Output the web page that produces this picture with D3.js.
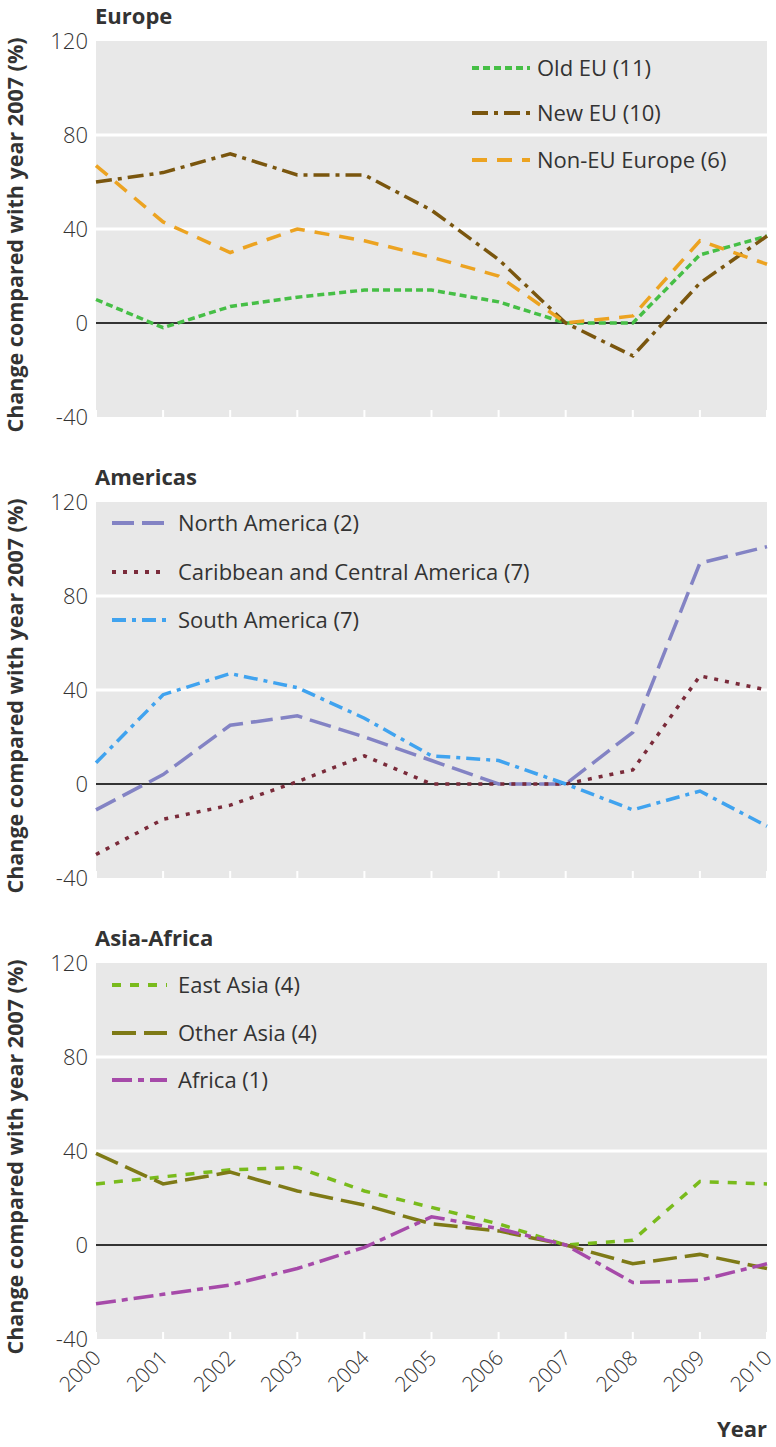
<!DOCTYPE html>
<html>
<head>
<meta charset="utf-8">
<script src="https://cdn.jsdelivr.net/npm/d3@7"></script>
<style>
  html, body { margin: 0; padding: 0; background: #fff; }
  svg { display: block; }
  text { font-family: "Open Sans", "Noto Sans", sans-serif; fill: #333; }
</style>
</head>
<body>
<svg id="chart" width="776" height="1447"></svg>
<script>
// ---------- data ----------
const years = [2000, 2001, 2002, 2003, 2004, 2005, 2006, 2007, 2008, 2009, 2010];
const yTicks = [120, 80, 40, 0, -40];
const yTickLabels = ["120", "80", "40", "0", "-40"];
const panelTitles = ["Europe", "Americas", "Asia-Africa"];

// Europe
const europeNames = ["Old EU (11)", "New EU (10)", "Non-EU Europe (6)"];
const oldEU       = [10, -2, 7, 11, 14, 14, 9, 0, 0, 29, 37];
const newEU       = [60, 64, 72, 63, 63, 48, 27, 0, -14, 17, 37];
const nonEU       = [67, 43, 30, 40, 35, 28, 20, 0, 3, 35, 25];

// Americas
const americasNames = ["North America (2)", "Caribbean and Central America (7)", "South America (7)"];
const northAmerica  = [-11, 4, 25, 29, 20, 10, 0, 0, 22, 94, 101];
const caribbean     = [-30, -15, -9, 1, 12, 0, 0, 0, 6, 46, 40];
const southAmerica  = [9, 38, 47, 41, 28, 12, 10, 0, -11, -3, -18];

// Asia-Africa
const asiaAfricaNames = ["East Asia (4)", "Other Asia (4)", "Africa (1)"];
const eastAsia  = [26, 29, 32, 33, 23, 16, 9, 0, 2, 27, 26];
const otherAsia = [39, 26, 31, 23, 17, 9, 6, 0, -8, -4, -10];
const africa    = [-25, -21, -17, -10, -1, 12, 7, 0, -16, -15, -8];

// ---------- styles ----------
const styles = [
  [ {color: "#46bf46", dash: "7,4"},   {color: "#7a560e", dash: "16,6,4,6"}, {color: "#eca321", dash: "15,10"} ],
  [ {color: "#8383c4", dash: "22,8"},  {color: "#7a2b3a", dash: "4,7"},      {color: "#40a3ef", dash: "14,6,4,6"} ],
  [ {color: "#79bb1c", dash: "9,9"},   {color: "#7e7a16", dash: "24,8"},     {color: "#a64aa9", dash: "20,6,6,6"} ]
];

const panelsData = [
  {title: panelTitles[0], names: europeNames,     values: [oldEU, newEU, nonEU]},
  {title: panelTitles[1], names: americasNames,   values: [northAmerica, caribbean, southAmerica]},
  {title: panelTitles[2], names: asiaAfricaNames, values: [eastAsia, otherAsia, africa]}
];

// ---------- layout ----------
const plotLeft = 96, plotRight = 767;
const panelTops = [41, 502, 963];
const plotH = 376;
const legendLayout = [
  {x0: 472, x1: 530, tx: 537, ys: [68, 113, 160]},
  {x0: 112, x1: 167, tx: 178, ys: [523, 572, 620]},
  {x0: 112, x1: 167, tx: 178, ys: [985, 1033, 1080]}
];

const svg = d3.select("#chart");
const x = d3.scaleLinear().domain([2000, 2010]).range([plotLeft, plotRight]);

panelsData.forEach((p, pi) => {
  const top = panelTops[pi];
  const y = d3.scaleLinear().domain([-40, 120]).range([top + plotH, top]);
  const g = svg.append("g");

  // background
  g.append("rect").attr("x", plotLeft).attr("y", top)
    .attr("width", plotRight - plotLeft).attr("height", plotH).attr("fill", "#e8e8e8");

  // white gridlines
  [80, 40].forEach(v => {
    g.append("line").attr("x1", plotLeft).attr("x2", plotRight)
      .attr("y1", y(v)).attr("y2", y(v)).attr("stroke", "#fff").attr("stroke-width", 3);
  });

  // bottom white ticks
  years.forEach(yr => {
    g.append("line").attr("x1", x(yr)).attr("x2", x(yr))
      .attr("y1", top + plotH).attr("y2", top + plotH - 7)
      .attr("stroke", "#fff").attr("stroke-width", 2);
  });

  // zero line
  g.append("line").attr("x1", plotLeft).attr("x2", plotRight)
    .attr("y1", y(0)).attr("y2", y(0)).attr("stroke", "#333").attr("stroke-width", 2);

  // y axis labels
  const yAxis = d3.axisLeft(y).tickValues(yTicks).tickSize(0).tickPadding(8)
    .tickFormat((d, i) => yTickLabels[i]);
  const ya = g.append("g").attr("transform", `translate(${plotLeft},0)`).call(yAxis);
  ya.select(".domain").remove();
  ya.selectAll("text").style("font-size", "22px").style("font-weight", 300)
    .style("font-family", "'Open Sans', sans-serif").attr("fill", "#333");

  // title
  g.append("text").attr("x", plotLeft - 1).attr("y", top - 17)
    .style("font-size", "22px").style("font-weight", 700).text(p.title);

  // y title
  g.append("text")
    .attr("transform", `translate(23,${top + plotH / 2 + 6}) rotate(-90)`)
    .attr("text-anchor", "middle")
    .style("font-size", "21.5px").style("font-weight", 700)
    .text("Change compared with year 2007 (%)");

  // lines
  const line = d3.line().x((d, i) => x(years[i])).y(d => y(d));
  p.values.forEach((vals, si) => {
    const st = styles[pi][si];
    g.append("path").datum(vals).attr("d", line)
      .attr("fill", "none").attr("stroke", st.color).attr("stroke-width", 3.5)
      .attr("stroke-dasharray", st.dash);
  });

  // legend
  const L = legendLayout[pi];
  p.names.forEach((name, si) => {
    const st = styles[pi][si];
    const ly = L.ys[si];
    g.append("line").attr("x1", L.x0).attr("x2", L.x1).attr("y1", ly).attr("y2", ly)
      .attr("stroke", st.color).attr("stroke-width", 4).attr("stroke-dasharray", st.dash);
    g.append("text").attr("x", L.tx).attr("y", ly).attr("dy", "0.35em")
      .style("font-size", "22px").style("font-weight", 400).text(name);
  });
});

// x axis labels under last panel
const lastBottom = panelTops[2] + plotH;
const xl = svg.append("g");
years.forEach(yr => {
  xl.append("text")
    .attr("transform", `translate(${x(yr) + 1},${lastBottom + 15}) rotate(-45)`)
    .attr("text-anchor", "end").attr("dy", "0.35em")
    .style("font-size", "21px").style("font-weight", 300)
    .text(yr);
});

svg.append("text").attr("x", plotRight).attr("y", 1437).attr("text-anchor", "end")
  .style("font-size", "22px").style("font-weight", 700).text("Year");
</script>
</body>
</html>
